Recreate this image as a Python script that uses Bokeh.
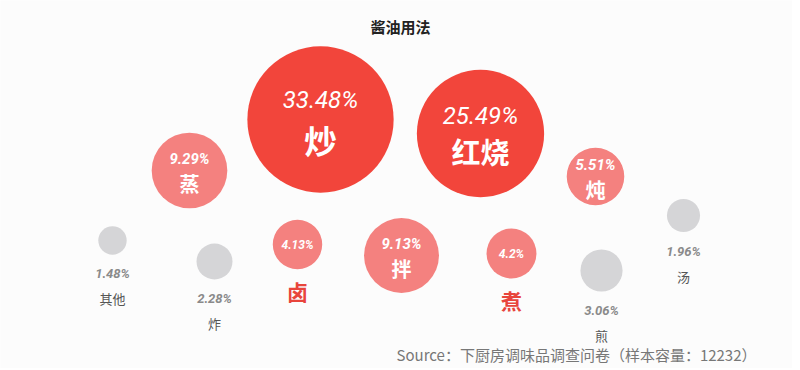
import math
from bokeh.plotting import figure
from bokeh.models import ColumnDataSource, Range1d
from bokeh.core.properties import value, field
from bokeh.embed import file_html
from bokeh.resources import INLINE

# ---- data ----
categories = ["其他", "炸", "蒸", "卤", "炒", "拌", "红烧", "煮", "炖", "煎", "汤"]
shares = [1.48, 2.28, 9.29, 4.13, 33.48, 9.13, 25.49, 4.2, 5.51, 3.06, 1.96]
title_text = "酱油用法"
source_text = "Source：下厨房调味品调查问卷（样本容量：12232）"

# ---- bubble layout (page pixel positions of bubble centres) ----
layout_x = [112, 214, 189, 297, 320, 401, 480, 511, 595, 601, 683]
layout_y = [240, 261, 170, 244, 119, 255, 133, 253, 176, 270, 215]

W, H = 792, 368
CJK = "Noto Sans CJK SC"
NUM = "Roboto"

def radius(v):
    return 12.9 * math.sqrt(v) - 1.5

def tier(v):
    if v >= 20:
        return "big"
    if v >= 5:
        return "mid"
    if v >= 4:
        return "small"
    return "gray"

fill = {"big": "#F2453B", "mid": "#F4817F", "small": "#F4817F", "gray": "#D5D5D7"}

circ = dict(x=[], y=[], r=[], c=[])
pct_big = dict(x=[], y=[], t=[])
pct_in = dict(x=[], y=[], t=[], fs=[])
name_in = dict(x=[], y=[], t=[], fs=[])
pct_out = dict(x=[], y=[], t=[])
name_out_gray = dict(x=[], y=[], t=[])
name_out_red = dict(x=[], y=[], t=[])

for cat, v, cx, cy in zip(categories, shares, layout_x, layout_y):
    r = radius(v)
    t = tier(v)
    circ["x"].append(cx); circ["y"].append(cy); circ["r"].append(r); circ["c"].append(fill[t])
    label = f"{v:g}%"
    if t == "big":
        nfs = 0.45 * r
        pct_big["x"].append(cx); pct_big["y"].append(cy - 0.6 * nfs); pct_big["t"].append(label)
        name_in["x"].append(cx); name_in["y"].append(cy + 0.62 * nfs); name_in["t"].append(cat); name_in["fs"].append(f"{nfs:.0f}px")
    elif t == "mid":
        nfs = 20
        pct_in["x"].append(cx); pct_in["y"].append(cy - 0.6 * nfs); pct_in["t"].append(label); pct_in["fs"].append("15px")
        name_in["x"].append(cx); name_in["y"].append(cy + 0.65 * nfs); name_in["t"].append(cat); name_in["fs"].append(f"{nfs}px")
    elif t == "small":
        pct_in["x"].append(cx); pct_in["y"].append(cy); pct_in["t"].append(label); pct_in["fs"].append("12px")
        name_out_red["x"].append(cx); name_out_red["y"].append(cy + r + 22); name_out_red["t"].append(cat)
    else:
        pct_out["x"].append(cx); pct_out["y"].append(cy + r + 19); pct_out["t"].append(label)
        name_out_gray["x"].append(cx); name_out_gray["y"].append(cy + r + 44); name_out_gray["t"].append(cat)

p = figure(width=W, height=H, output_backend="svg", toolbar_location=None,
           x_range=Range1d(0, W), y_range=Range1d(H, 0),
           x_axis_type=None, y_axis_type=None, min_border=0,
           background_fill_color="#FCFCFC", border_fill_color="#FCFCFC")
p.outline_line_color = None
p.xgrid.visible = False
p.ygrid.visible = False

p.circle(x="x", y="y", radius="r", fill_color="c", line_color=None, source=ColumnDataSource(circ))

p.text(x="x", y="y", text="t", source=ColumnDataSource(pct_big), text_align="center", text_baseline="middle",
       text_font=value(NUM), text_font_style="italic", text_font_size="24px", text_color="#FFFFFF")
p.text(x="x", y="y", text="t", source=ColumnDataSource(pct_in), text_align="center", text_baseline="middle",
       text_font=value(NUM), text_font_style="bold italic", text_font_size=field("fs"), text_color="#FFFFFF")
p.text(x="x", y="y", text="t", source=ColumnDataSource(name_in), text_align="center", text_baseline="middle",
       text_font=value(CJK), text_font_style="bold", text_font_size=field("fs"), text_color="#FFFFFF")
p.text(x="x", y="y", text="t", source=ColumnDataSource(pct_out), text_align="center", text_baseline="middle",
       text_font=value(NUM), text_font_style="bold italic", text_font_size="13px", text_color="#8A8A8A")
p.text(x="x", y="y", text="t", source=ColumnDataSource(name_out_gray), text_align="center", text_baseline="middle",
       text_font=value(CJK), text_font_size="13px", text_color="#555555")
p.text(x="x", y="y", text="t", source=ColumnDataSource(name_out_red), text_align="center", text_baseline="middle",
       text_font=value(CJK), text_font_style="bold", text_font_size="21px", text_color="#E8453C")

p.text(x=[400], y=[26], text=[title_text], text_align="center", text_baseline="middle",
       text_font=value(CJK), text_font_style="bold", text_font_size="15px", text_color="#222222")
p.text(x=[396], y=[354], text=[source_text], text_align="left", text_baseline="middle",
       text_font=value(CJK), text_font_size="15px", text_color="#777777")

open("out.html", "w").write(file_html(p, INLINE))
